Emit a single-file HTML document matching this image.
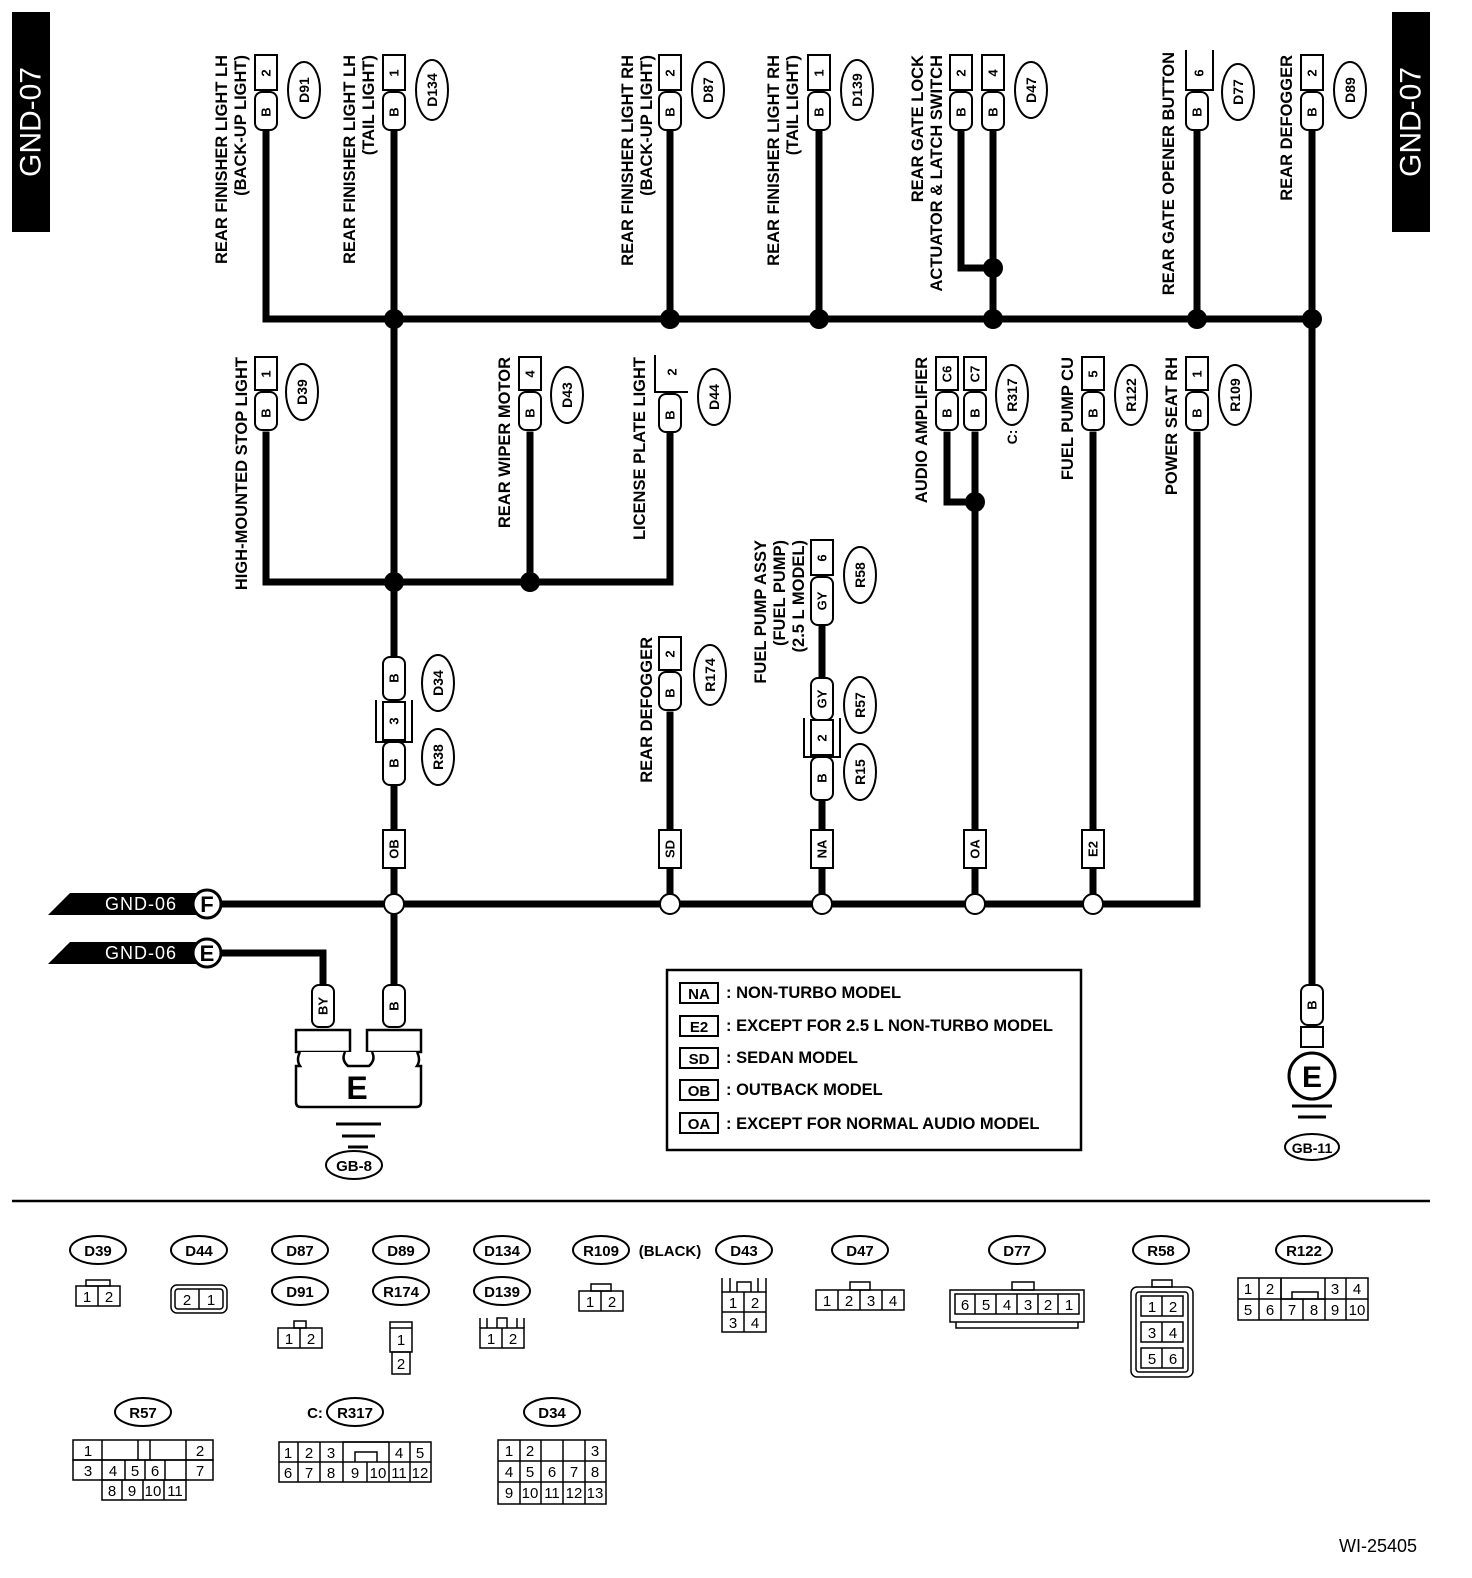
<!DOCTYPE html>
<html><head><meta charset="utf-8"><style>
html,body{margin:0;padding:0;background:#fff}
svg{display:block}
text{font-family:"Liberation Sans",sans-serif;font-weight:bold;fill:#000}
.l{font-size:16.5px}
.p{font-size:13px}
.e{font-size:14px}
</style></head><body>
<svg width="1472" height="1578" viewBox="0 0 1472 1578" xmlns="http://www.w3.org/2000/svg">
<defs>
<g id="pill"><rect x="-11" y="0" width="22" height="38" rx="7" fill="#fff" stroke="#000" stroke-width="2"/></g>
</defs>
<rect x="12" y="12" width="38" height="220" fill="#000"/>
<text transform="translate(31,122) rotate(-90)" text-anchor="middle" dominant-baseline="central" style="fill:#fff;font-size:30px;font-weight:normal">GND-07</text>
<rect x="1392" y="12" width="38" height="220" fill="#000"/>
<text transform="translate(1411,122) rotate(-90)" text-anchor="middle" dominant-baseline="central" style="fill:#fff;font-size:30px;font-weight:normal">GND-07</text>

<g stroke="#000" stroke-width="7" fill="none" stroke-linecap="square">
<path d="M266 130 V319 H1312"/>
<path d="M394 130 V655"/>
<path d="M670 130 V319"/>
<path d="M819 130 V319"/>
<path d="M961 130 V268 H993"/>
<path d="M993 130 V319"/>
<path d="M1197 130 V319"/>
<path d="M1312 130 V985"/>
<path d="M266 435 V582 H670 V435"/>
<path d="M530 435 V582"/>
<path d="M394 785 V830"/>
<path d="M394 868 V985"/>
<path d="M670 715 V830"/>
<path d="M822 625 V678"/>
<path d="M822 800 V830"/>
<path d="M947 435 V502 H975"/>
<path d="M975 435 V830"/>
<path d="M1093 435 V830"/>
<path d="M220 904 H1197 V435"/>
<path d="M394 868 V904 M670 868 V904 M822 868 V904 M975 868 V904 M1093 868 V904"/>
<path d="M220 953 H323 V985"/>
</g>
<g fill="#000">
<circle cx="394" cy="319" r="10"/><circle cx="670" cy="319" r="10"/><circle cx="819" cy="319" r="10"/>
<circle cx="993" cy="319" r="10"/><circle cx="993" cy="268" r="10"/><circle cx="1197" cy="319" r="10"/><circle cx="1312" cy="319" r="10"/>
<circle cx="394" cy="582" r="10"/><circle cx="530" cy="582" r="10"/><circle cx="975" cy="502" r="10"/>
</g>
<g fill="#fff" stroke="#000" stroke-width="2">
<circle cx="394" cy="904" r="10"/><circle cx="670" cy="904" r="10"/><circle cx="822" cy="904" r="10"/><circle cx="975" cy="904" r="10"/><circle cx="1093" cy="904" r="10"/>
</g>

<g fill="#fff" stroke="#000" stroke-width="2">
<rect x="255" y="55" width="22" height="35"/><rect x="383" y="55" width="22" height="35"/>
<rect x="659" y="55" width="22" height="35"/><rect x="808" y="55" width="22" height="35"/>
<rect x="950" y="55" width="22" height="35"/><rect x="982" y="55" width="22" height="35"/>
<path d="M1186 50 V90 H1213 V50" fill="none"/>
<rect x="1301" y="55" width="22" height="35"/>
</g>
<use href="#pill" x="266" y="92"/><use href="#pill" x="394" y="92"/><use href="#pill" x="670" y="92"/><use href="#pill" x="819" y="92"/>
<use href="#pill" x="961" y="92"/><use href="#pill" x="993" y="92"/><use href="#pill" x="1197" y="92"/><use href="#pill" x="1312" y="92"/>
<g class="p" text-anchor="middle" dominant-baseline="central">
<text transform="translate(266,73) rotate(-90)">2</text><text transform="translate(266,112) rotate(-90)">B</text>
<text transform="translate(394,73) rotate(-90)">1</text><text transform="translate(394,112) rotate(-90)">B</text>
<text transform="translate(670,73) rotate(-90)">2</text><text transform="translate(670,112) rotate(-90)">B</text>
<text transform="translate(819,73) rotate(-90)">1</text><text transform="translate(819,112) rotate(-90)">B</text>
<text transform="translate(961,73) rotate(-90)">2</text><text transform="translate(961,112) rotate(-90)">B</text>
<text transform="translate(993,73) rotate(-90)">4</text><text transform="translate(993,112) rotate(-90)">B</text>
<text transform="translate(1199,73) rotate(-90)">6</text><text transform="translate(1197,112) rotate(-90)">B</text>
<text transform="translate(1312,73) rotate(-90)">2</text><text transform="translate(1312,112) rotate(-90)">B</text>
</g>
<g fill="#fff" stroke="#000" stroke-width="2">
<rect x="255" y="357" width="22" height="33"/><rect x="519" y="357" width="22" height="33"/>
<path d="M655 355 V392 H688" fill="none"/>
<rect x="936" y="357" width="22" height="33"/><rect x="964" y="357" width="22" height="33"/>
<rect x="1082" y="357" width="22" height="33"/><rect x="1186" y="357" width="22" height="33"/>
<rect x="659" y="637" width="22" height="33"/>
<rect x="811" y="540" width="22" height="35"/>
<rect x="383" y="702" width="22" height="38"/>
<path d="M376 700 V742 H412 V700" fill="none"/>
<rect x="811" y="720" width="22" height="35"/>
<path d="M804 718 V757 H840 V718" fill="none"/>
</g>
<use href="#pill" x="266" y="392"/><use href="#pill" x="530" y="392"/><use href="#pill" x="670" y="394"/>
<use href="#pill" x="947" y="392"/><use href="#pill" x="975" y="392"/><use href="#pill" x="1093" y="392"/><use href="#pill" x="1197" y="392"/>
<use href="#pill" x="670" y="672"/>
<g fill="#fff" stroke="#000" stroke-width="2">
<rect x="811" y="577" width="22" height="48" rx="7"/>
<rect x="811" y="678" width="22" height="42" rx="7"/>
<rect x="811" y="757" width="22" height="43" rx="7"/>
<rect x="383" y="657" width="22" height="43" rx="7"/>
<rect x="383" y="742" width="22" height="43" rx="7"/>
<rect x="383" y="830" width="22" height="38"/><rect x="659" y="830" width="22" height="38"/><rect x="811" y="830" width="22" height="38"/>
<rect x="964" y="830" width="22" height="38"/><rect x="1082" y="830" width="22" height="38"/>
<rect x="312" y="985" width="22" height="42" rx="7"/><rect x="383" y="985" width="22" height="42" rx="7"/>
<rect x="1301" y="985" width="22" height="40" rx="7"/>
<rect x="1301" y="1027" width="22" height="20"/>
</g>
<g class="p" text-anchor="middle" dominant-baseline="central">
<text transform="translate(266,374) rotate(-90)">1</text><text transform="translate(266,413) rotate(-90)">B</text>
<text transform="translate(530,374) rotate(-90)">4</text><text transform="translate(530,413) rotate(-90)">B</text>
<text transform="translate(672,372) rotate(-90)">2</text><text transform="translate(670,415) rotate(-90)">B</text>
<text transform="translate(947,374) rotate(-90)">C6</text><text transform="translate(947,413) rotate(-90)">B</text>
<text transform="translate(975,374) rotate(-90)">C7</text><text transform="translate(975,413) rotate(-90)">B</text>
<text transform="translate(1093,374) rotate(-90)">5</text><text transform="translate(1093,413) rotate(-90)">B</text>
<text transform="translate(1197,374) rotate(-90)">1</text><text transform="translate(1197,413) rotate(-90)">B</text>
<text transform="translate(670,654) rotate(-90)">2</text><text transform="translate(670,693) rotate(-90)">B</text>
<text transform="translate(822,558) rotate(-90)">6</text><text transform="translate(822,601) rotate(-90)">GY</text>
<text transform="translate(822,699) rotate(-90)">GY</text><text transform="translate(822,738) rotate(-90)">2</text><text transform="translate(822,778) rotate(-90)">B</text>
<text transform="translate(394,678) rotate(-90)">B</text><text transform="translate(394,721) rotate(-90)">3</text><text transform="translate(394,763) rotate(-90)">B</text>
<text transform="translate(394,849) rotate(-90)">OB</text><text transform="translate(670,849) rotate(-90)">SD</text><text transform="translate(822,849) rotate(-90)">NA</text>
<text transform="translate(975,849) rotate(-90)">OA</text><text transform="translate(1093,849) rotate(-90)">E2</text>
<text transform="translate(323,1006) rotate(-90)">BY</text><text transform="translate(394,1006) rotate(-90)">B</text>
<text transform="translate(1312,1005) rotate(-90)">B</text>
</g>

<g fill="#fff" stroke="#000" stroke-width="2">
<ellipse cx="304" cy="90" rx="16" ry="28"/><ellipse cx="432" cy="90" rx="16" ry="30"/><ellipse cx="708" cy="90" rx="16" ry="28"/>
<ellipse cx="857" cy="90" rx="16" ry="30"/><ellipse cx="1031" cy="90" rx="16" ry="28"/><ellipse cx="1238" cy="92" rx="16" ry="28"/><ellipse cx="1350" cy="90" rx="16" ry="28"/>
<ellipse cx="302" cy="392" rx="16" ry="28"/><ellipse cx="567" cy="395" rx="16" ry="28"/><ellipse cx="714" cy="397" rx="16" ry="28"/>
<ellipse cx="1012" cy="395" rx="16" ry="30"/><ellipse cx="1131" cy="395" rx="16" ry="30"/><ellipse cx="1235" cy="395" rx="16" ry="30"/>
<ellipse cx="710" cy="675" rx="16" ry="30"/><ellipse cx="860" cy="575" rx="16" ry="28"/><ellipse cx="860" cy="705" rx="16" ry="28"/><ellipse cx="860" cy="772" rx="16" ry="28"/>
<ellipse cx="438" cy="683" rx="16" ry="28"/><ellipse cx="438" cy="757" rx="16" ry="28"/>
</g>
<g class="e" text-anchor="middle" dominant-baseline="central">
<text transform="translate(304,90) rotate(-90)">D91</text><text transform="translate(432,90) rotate(-90)">D134</text>
<text transform="translate(708,90) rotate(-90)">D87</text><text transform="translate(857,90) rotate(-90)">D139</text>
<text transform="translate(1031,90) rotate(-90)">D47</text><text transform="translate(1238,92) rotate(-90)">D77</text>
<text transform="translate(1350,90) rotate(-90)">D89</text>
<text transform="translate(302,392) rotate(-90)">D39</text><text transform="translate(567,395) rotate(-90)">D43</text>
<text transform="translate(714,397) rotate(-90)">D44</text><text transform="translate(1012,395) rotate(-90)">R317</text>
<text transform="translate(1131,395) rotate(-90)">R122</text><text transform="translate(1235,395) rotate(-90)">R109</text>
<text transform="translate(1012,437) rotate(-90)">C:</text>
<text transform="translate(710,675) rotate(-90)">R174</text><text transform="translate(860,575) rotate(-90)">R58</text>
<text transform="translate(860,705) rotate(-90)">R57</text><text transform="translate(860,772) rotate(-90)">R15</text>
<text transform="translate(438,683) rotate(-90)">D34</text><text transform="translate(438,757) rotate(-90)">R38</text>
</g>

<g class="l" text-anchor="end" dominant-baseline="central">
<text transform="translate(222,55) rotate(-90)">REAR FINISHER LIGHT LH</text>
<text transform="translate(241,55) rotate(-90)">(BACK-UP LIGHT)</text>
<text transform="translate(350,55) rotate(-90)">REAR FINISHER LIGHT LH</text>
<text transform="translate(369,55) rotate(-90)">(TAIL LIGHT)</text>
<text transform="translate(628,55) rotate(-90)">REAR FINISHER LIGHT RH</text>
<text transform="translate(647,55) rotate(-90)">(BACK-UP LIGHT)</text>
<text transform="translate(774,55) rotate(-90)">REAR FINISHER LIGHT RH</text>
<text transform="translate(793,55) rotate(-90)">(TAIL LIGHT)</text>
<text transform="translate(918,55) rotate(-90)">REAR GATE LOCK</text>
<text transform="translate(937,55) rotate(-90)">ACTUATOR &amp; LATCH SWITCH</text>
<text transform="translate(1169,52) rotate(-90)">REAR GATE OPENER BUTTON</text>
<text transform="translate(1287,55) rotate(-90)">REAR DEFOGGER</text>
<text transform="translate(242,357) rotate(-90)">HIGH-MOUNTED STOP LIGHT</text>
<text transform="translate(505,357) rotate(-90)">REAR WIPER MOTOR</text>
<text transform="translate(640,357) rotate(-90)">LICENSE PLATE LIGHT</text>
<text transform="translate(922,357) rotate(-90)">AUDIO AMPLIFIER</text>
<text transform="translate(1068,357) rotate(-90)">FUEL PUMP CU</text>
<text transform="translate(1172,357) rotate(-90)">POWER SEAT RH</text>
<text transform="translate(647,637) rotate(-90)">REAR DEFOGGER</text>
<text transform="translate(761,540) rotate(-90)">FUEL PUMP ASSY</text>
<text transform="translate(780,540) rotate(-90)">(FUEL PUMP)</text>
<text transform="translate(799,540) rotate(-90)">(2.5 L MODEL)</text>
</g>

<polygon points="48,915 70,893 200,893 200,915" fill="#000"/>
<polygon points="48,964 70,942 200,942 200,964" fill="#000"/>
<text x="141" y="910" text-anchor="middle" style="fill:#fff;font-size:18px;font-weight:normal;letter-spacing:1px">GND-06</text>
<text x="141" y="959" text-anchor="middle" style="fill:#fff;font-size:18px;font-weight:normal;letter-spacing:1px">GND-06</text>
<circle cx="207" cy="904" r="14" fill="#fff" stroke="#000" stroke-width="3"/>
<circle cx="207" cy="953" r="14" fill="#fff" stroke="#000" stroke-width="3"/>
<text x="207" y="912" text-anchor="middle" style="font-size:22px">F</text>
<text x="207" y="961" text-anchor="middle" style="font-size:22px">E</text>

<g fill="#fff" stroke="#000" stroke-width="2.5">
<rect x="296" y="1030" width="54" height="22"/><rect x="367" y="1030" width="54" height="22"/>
<path d="M300 1052 Q296 1060 300 1066 H296 V1102 Q296 1107 301 1107 H416 Q421 1107 421 1102 V1066 H417 Q421 1060 417 1052"/>
<path d="M345 1052 Q341 1060 348 1066 H369 Q376 1060 372 1052"/>
</g>
<text x="357" y="1099" text-anchor="middle" style="font-size:32px">E</text>
<g stroke="#000" stroke-width="3"><path d="M336 1124 H381 M342 1136 H375 M348 1147 H368"/></g>
<ellipse cx="354" cy="1165" rx="28" ry="14" fill="#fff" stroke="#000" stroke-width="2"/>
<text x="354" y="1171" text-anchor="middle" style="font-size:15px">GB-8</text>

<circle cx="1312" cy="1076" r="23" fill="#fff" stroke="#000" stroke-width="3"/>
<text x="1312" y="1087" text-anchor="middle" style="font-size:30px">E</text>
<g stroke="#000" stroke-width="3"><path d="M1292 1106 H1332 M1298 1117 H1326"/></g>
<ellipse cx="1312" cy="1147" rx="27" ry="13" fill="#fff" stroke="#000" stroke-width="2"/>
<text x="1312" y="1153" text-anchor="middle" style="font-size:14px">GB-11</text>

<rect x="667" y="970" width="414" height="180" fill="#fff" stroke="#000" stroke-width="2.5"/>
<g fill="#fff" stroke="#000" stroke-width="2">
<rect x="680" y="983" width="38" height="20"/><rect x="680" y="1016" width="38" height="20"/><rect x="680" y="1048" width="38" height="20"/>
<rect x="680" y="1080" width="38" height="20"/><rect x="680" y="1113" width="38" height="20"/>
</g>
<g style="font-size:16.5px">
<text x="699" y="999" text-anchor="middle" style="font-size:15px">NA</text><text x="699" y="1032" text-anchor="middle" style="font-size:15px">E2</text>
<text x="699" y="1064" text-anchor="middle" style="font-size:15px">SD</text><text x="699" y="1096" text-anchor="middle" style="font-size:15px">OB</text><text x="699" y="1129" text-anchor="middle" style="font-size:15px">OA</text>
<text x="726" y="998">: NON-TURBO MODEL</text>
<text x="726" y="1031">: EXCEPT FOR 2.5 L NON-TURBO MODEL</text>
<text x="726" y="1063">: SEDAN MODEL</text>
<text x="726" y="1095">: OUTBACK MODEL</text>
<text x="726" y="1129">: EXCEPT FOR NORMAL AUDIO MODEL</text>
</g>

<line x1="12" y1="1201" x2="1430" y2="1201" stroke="#000" stroke-width="2.5"/>

<g fill="#fff" stroke="#000" stroke-width="2">
<ellipse cx="98" cy="1250" rx="28" ry="14"/><ellipse cx="199" cy="1250" rx="28" ry="14"/><ellipse cx="300" cy="1250" rx="28" ry="14"/>
<ellipse cx="401" cy="1250" rx="28" ry="14"/><ellipse cx="502" cy="1250" rx="28" ry="14"/><ellipse cx="601" cy="1250" rx="28" ry="14"/>
<ellipse cx="744" cy="1250" rx="28" ry="14"/><ellipse cx="860" cy="1250" rx="28" ry="14"/><ellipse cx="1017" cy="1250" rx="28" ry="14"/>
<ellipse cx="1161" cy="1250" rx="28" ry="14"/><ellipse cx="1304" cy="1250" rx="28" ry="14"/>
<ellipse cx="300" cy="1291" rx="28" ry="14"/><ellipse cx="401" cy="1291" rx="28" ry="14"/><ellipse cx="502" cy="1291" rx="28" ry="14"/>
<ellipse cx="143" cy="1412" rx="28" ry="14"/><ellipse cx="355" cy="1412" rx="28" ry="14"/><ellipse cx="552" cy="1412" rx="28" ry="14"/>
</g>
<g style="font-size:15px" text-anchor="middle">
<text x="98" y="1256">D39</text><text x="199" y="1256">D44</text><text x="300" y="1256">D87</text><text x="401" y="1256">D89</text>
<text x="502" y="1256">D134</text><text x="601" y="1256">R109</text><text x="744" y="1256">D43</text><text x="860" y="1256">D47</text>
<text x="1017" y="1256">D77</text><text x="1161" y="1256">R58</text><text x="1304" y="1256">R122</text>
<text x="300" y="1297">D91</text><text x="401" y="1297">R174</text><text x="502" y="1297">D139</text>
<text x="143" y="1418">R57</text><text x="355" y="1418">R317</text><text x="552" y="1418">D34</text>
<text x="670" y="1256">(BLACK)</text><text x="315" y="1418">C:</text>
</g>
<text x="1378" y="1552" text-anchor="middle" style="font-size:18px;font-weight:normal">WI-25405</text>

<g fill="none" stroke="#000" stroke-width="1.5">
<rect x="76" y="1286" width="44" height="20"/><rect x="86" y="1280" width="24" height="6"/><line x1="98" y1="1286" x2="98" y2="1306"/>
<rect x="171" y="1285" width="56" height="28" rx="6"/><rect x="175" y="1289" width="48" height="20" rx="3"/><line x1="199" y1="1289" x2="199" y2="1309"/>
<rect x="278" y="1328" width="44" height="20"/><rect x="294" y="1321" width="12" height="7"/><line x1="300" y1="1328" x2="300" y2="1348"/>
<rect x="390" y="1322" width="22" height="30"/><line x1="390" y1="1328" x2="412" y2="1328"/><rect x="392" y="1352" width="18" height="22"/>
<rect x="480" y="1328" width="44" height="20"/><path d="M480 1328 V1318 M487 1318 V1328 M497 1328 V1318 H507 V1328 M517 1328 V1318 M524 1318 V1328"/><line x1="502" y1="1328" x2="502" y2="1348"/>
<rect x="579" y="1291" width="44" height="20"/><rect x="591" y="1284" width="20" height="7"/><line x1="601" y1="1291" x2="601" y2="1311"/>
<rect x="722" y="1292" width="44" height="40"/><line x1="722" y1="1312" x2="766" y2="1312"/><line x1="744" y1="1292" x2="744" y2="1332"/><path d="M722 1292 V1278 M730 1278 V1292 M758 1292 V1278 M766 1278 V1292 M737 1292 V1282 H751 V1292"/>
<rect x="816" y="1290" width="88" height="20"/><rect x="850" y="1282" width="20" height="8"/><path d="M838 1290 V1310 M860 1290 V1310 M882 1290 V1310"/>
<rect x="950" y="1290" width="134" height="32"/><rect x="1012" y="1282" width="22" height="8"/><rect x="955" y="1294" width="124" height="20"/>
<path d="M975 1294 V1314 M996 1294 V1314 M1017 1294 V1314 M1038 1294 V1314 M1058 1294 V1314"/><path d="M956 1322 V1328 H1078 V1322"/>
<rect x="1131" y="1287" width="62" height="90" rx="6"/><rect x="1136" y="1292" width="52" height="80" rx="3"/><rect x="1152" y="1280" width="20" height="7"/>
<rect x="1141" y="1296" width="42" height="20"/><rect x="1141" y="1322" width="42" height="20"/><rect x="1141" y="1348" width="42" height="20"/><path d="M1162 1296 V1316 M1162 1322 V1342 M1162 1348 V1368"/>
<rect x="1238" y="1278" width="130" height="42"/><line x1="1238" y1="1299" x2="1368" y2="1299"/>
<path d="M1259 1278 V1320 M1281 1278 V1299 M1281 1299 V1320 M1303 1299 V1320 M1325 1278 V1320 M1346 1278 V1320"/>
<path d="M1281 1278 V1299 H1325 M1292 1299 V1292 H1318 V1299" />
<rect x="73" y="1440" width="140" height="20"/><rect x="73" y="1460" width="140" height="20"/><rect x="102" y="1480" width="84" height="20"/>
<path d="M102 1460 V1480 M125 1460 V1480 M145 1460 V1480 M165 1460 V1480 M186 1460 V1480 M122 1480 V1500 M143 1480 V1500 M164 1480 V1500 M102 1440 V1460 M186 1440 V1460 M138 1440 V1460 M150 1440 V1460"/>
<rect x="279" y="1442" width="152" height="40"/><line x1="279" y1="1462" x2="431" y2="1462"/>
<path d="M298 1442 V1482 M320 1442 V1482 M343 1442 V1482 M367 1462 V1482 M389 1442 V1482 M410 1442 V1482 M343 1442 H389 M355 1462 V1452 H377 V1462"/>
<rect x="498" y="1440" width="108" height="64"/><path d="M498 1461 H606 M498 1482 H606 M520 1440 V1504 M541 1461 V1504 M563 1461 V1504 M585 1440 V1504 M541 1440 V1461 M563 1440 V1461"/>
</g>
<g style="font-size:15px" text-anchor="middle">
<g style="font-weight:normal">
<text x="87" y="1302" style="font-weight:normal">1</text><text x="109" y="1302" style="font-weight:normal">2</text>
<text x="187" y="1305" style="font-weight:normal">2</text><text x="211" y="1305" style="font-weight:normal">1</text>
<text x="289" y="1344" style="font-weight:normal">1</text><text x="311" y="1344" style="font-weight:normal">2</text>
<text x="401" y="1345" style="font-weight:normal">1</text><text x="401" y="1369" style="font-weight:normal">2</text>
<text x="491" y="1344" style="font-weight:normal">1</text><text x="513" y="1344" style="font-weight:normal">2</text>
<text x="590" y="1307" style="font-weight:normal">1</text><text x="612" y="1307" style="font-weight:normal">2</text>
<text x="733" y="1308" style="font-weight:normal">1</text><text x="755" y="1308" style="font-weight:normal">2</text><text x="733" y="1328" style="font-weight:normal">3</text><text x="755" y="1328" style="font-weight:normal">4</text>
<text x="827" y="1306" style="font-weight:normal">1</text><text x="849" y="1306" style="font-weight:normal">2</text><text x="871" y="1306" style="font-weight:normal">3</text><text x="893" y="1306" style="font-weight:normal">4</text>
<text x="965" y="1310" style="font-weight:normal">6</text><text x="986" y="1310" style="font-weight:normal">5</text><text x="1007" y="1310" style="font-weight:normal">4</text><text x="1028" y="1310" style="font-weight:normal">3</text><text x="1048" y="1310" style="font-weight:normal">2</text><text x="1069" y="1310" style="font-weight:normal">1</text>
<text x="1152" y="1312" style="font-weight:normal">1</text><text x="1173" y="1312" style="font-weight:normal">2</text><text x="1152" y="1338" style="font-weight:normal">3</text><text x="1173" y="1338" style="font-weight:normal">4</text><text x="1152" y="1364" style="font-weight:normal">5</text><text x="1173" y="1364" style="font-weight:normal">6</text>
<text x="1248" y="1294" style="font-weight:normal">1</text><text x="1270" y="1294" style="font-weight:normal">2</text><text x="1335" y="1294" style="font-weight:normal">3</text><text x="1357" y="1294" style="font-weight:normal">4</text>
<text x="1248" y="1315" style="font-weight:normal">5</text><text x="1270" y="1315" style="font-weight:normal">6</text><text x="1292" y="1315" style="font-weight:normal">7</text><text x="1314" y="1315" style="font-weight:normal">8</text><text x="1335" y="1315" style="font-weight:normal">9</text><text x="1357" y="1315" style="font-weight:normal">10</text>
<text x="88" y="1456" style="font-weight:normal">1</text><text x="200" y="1456" style="font-weight:normal">2</text>
<text x="88" y="1476" style="font-weight:normal">3</text><text x="113" y="1476" style="font-weight:normal">4</text><text x="135" y="1476" style="font-weight:normal">5</text><text x="155" y="1476" style="font-weight:normal">6</text><text x="200" y="1476" style="font-weight:normal">7</text>
<text x="112" y="1496" style="font-weight:normal">8</text><text x="132" y="1496" style="font-weight:normal">9</text><text x="153" y="1496" style="font-weight:normal">10</text><text x="175" y="1496" style="font-weight:normal">11</text>
<text x="288" y="1458" style="font-weight:normal">1</text><text x="309" y="1458" style="font-weight:normal">2</text><text x="331" y="1458" style="font-weight:normal">3</text><text x="399" y="1458" style="font-weight:normal">4</text><text x="420" y="1458" style="font-weight:normal">5</text>
<text x="288" y="1478" style="font-weight:normal">6</text><text x="309" y="1478" style="font-weight:normal">7</text><text x="331" y="1478" style="font-weight:normal">8</text><text x="355" y="1478" style="font-weight:normal">9</text><text x="378" y="1478" style="font-weight:normal">10</text><text x="399" y="1478" style="font-weight:normal">11</text><text x="420" y="1478" style="font-weight:normal">12</text>
<text x="509" y="1456" style="font-weight:normal">1</text><text x="530" y="1456" style="font-weight:normal">2</text><text x="595" y="1456" style="font-weight:normal">3</text>
<text x="509" y="1477" style="font-weight:normal">4</text><text x="530" y="1477" style="font-weight:normal">5</text><text x="552" y="1477" style="font-weight:normal">6</text><text x="574" y="1477" style="font-weight:normal">7</text><text x="595" y="1477" style="font-weight:normal">8</text>
<text x="509" y="1498" style="font-weight:normal">9</text><text x="530" y="1498" style="font-weight:normal">10</text><text x="552" y="1498" style="font-weight:normal">11</text><text x="574" y="1498" style="font-weight:normal">12</text><text x="595" y="1498" style="font-weight:normal">13</text>
</g>
</g>
</svg>
</body></html>
